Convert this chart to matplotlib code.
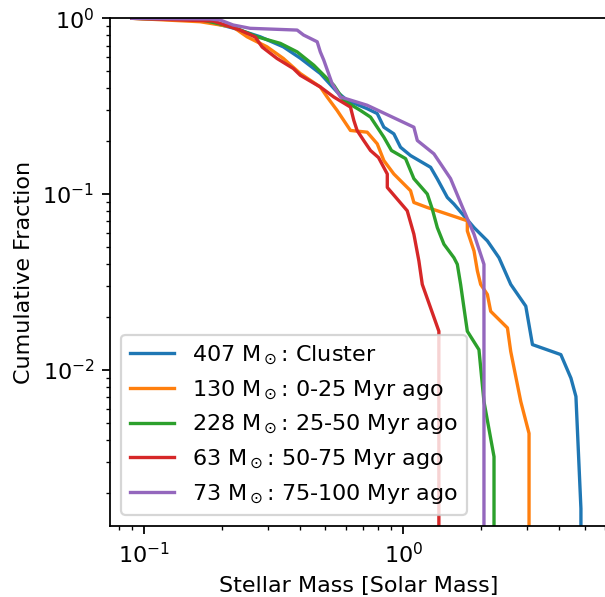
import matplotlib
matplotlib.use("Agg")
import matplotlib.pyplot as plt

# cumulative fraction of stars above a given mass
labels = [r"407 M$_\odot$: Cluster",
          r"130 M$_\odot$: 0-25 Myr ago",
          r"228 M$_\odot$: 25-50 Myr ago",
          r"63 M$_\odot$: 50-75 Myr ago",
          r"73 M$_\odot$: 75-100 Myr ago"]

mass_cluster = [0.09, 0.165, 0.221, 0.281, 0.345, 0.401, 0.479, 0.556, 0.608, 0.726,
                0.794, 0.842, 0.920, 0.976, 1.067, 1.275, 1.353, 1.479, 1.568, 1.874,
                2.110, 2.339, 2.596, 2.967, 3.148, 4.05, 4.43, 4.63, 4.84, 4.84]
frac_cluster = [1.0, 0.984, 0.880, 0.785, 0.688, 0.593, 0.485, 0.381, 0.341, 0.306,
                0.287, 0.240, 0.220, 0.1846, 0.1655, 0.1419, 0.1219, 0.0956, 0.0877, 0.0644,
                0.0541, 0.0434, 0.0306, 0.0230, 0.0139, 0.01219, 0.00895, 0.00704, 0.00162, 0.0]

mass_0_25 = [0.09, 0.165, 0.221, 0.250, 0.2985, 0.345, 0.401, 0.479, 0.509, 0.556,
             0.626, 0.726, 0.794, 0.842, 0.920, 1.067, 1.099, 1.238, 1.353, 1.766,
             1.766, 1.874, 1.931, 1.988, 2.110, 2.173, 2.521, 2.596, 2.838, 3.054, 3.054]
frac_0_25 = [1.0, 0.956, 0.892, 0.785, 0.688, 0.591, 0.485, 0.4066, 0.3565, 0.299,
             0.230, 0.2249, 0.193, 0.155, 0.130, 0.1044, 0.0895, 0.0838, 0.0803, 0.0704,
             0.0617, 0.0474, 0.0365, 0.0306, 0.0268, 0.0215, 0.0173, 0.0127, 0.00659, 0.00434, 0.0]

mass_25_50 = [0.09, 0.165, 0.221, 0.273, 0.336, 0.390, 0.452, 0.509, 0.540, 0.590,
              0.684, 0.748, 0.842, 0.901, 1.021, 1.099, 1.238, 1.294, 1.353, 1.435,
              1.568, 1.616, 1.664, 1.714, 1.766, 1.958, 2.047, 2.238, 2.238]
frac_25_50 = [1.0, 0.984, 0.892, 0.785, 0.720, 0.644, 0.541, 0.454, 0.416, 0.341,
              0.299, 0.274, 0.2106, 0.1768, 0.159, 0.1223, 0.100, 0.0821, 0.0644, 0.0518,
              0.0434, 0.0398, 0.0306, 0.0225, 0.01656, 0.0130, 0.00659, 0.00320, 0.0]

mass_50_75 = [0.09, 0.185, 0.235, 0.269, 0.286, 0.326, 0.377, 0.401, 0.479, 0.540,
              0.626, 0.645, 0.664, 0.704, 0.748, 0.803, 0.868, 0.868, 1.036, 1.099,
              1.149, 1.184, 1.372, 1.372]
frac_50_75 = [1.0, 0.965, 0.857, 0.782, 0.686, 0.591, 0.518, 0.474, 0.4066, 0.3565,
              0.3125, 0.2623, 0.230, 0.2017, 0.1768, 0.1612, 0.130, 0.109, 0.0803, 0.0591,
              0.0416, 0.0306, 0.01656, 0.0]

mass_75_100 = [0.09, 0.180, 0.197, 0.221, 0.257, 0.390, 0.413, 0.466, 0.479, 0.494,
               0.532, 0.573, 0.726, 1.099, 1.133, 1.313, 1.522, 1.714, 1.874, 2.047, 2.047]
frac_75_100 = [1.0, 0.991, 0.978, 0.916, 0.877, 0.857, 0.803, 0.735, 0.644, 0.578,
               0.425, 0.3565, 0.320, 0.240, 0.2017, 0.1693, 0.1223, 0.0803, 0.0591, 0.0398, 0.0]

masses = [mass_cluster, mass_0_25, mass_25_50, mass_50_75, mass_75_100]
fracs = [frac_cluster, frac_0_25, frac_25_50, frac_50_75, frac_75_100]

fig = plt.figure(figsize=(605 / 160, 597 / 160), dpi=160)
# axes runs slightly past the right edge, like the original crop
ax = fig.add_axes([110 / 605, 71 / 597, 497 / 605, 507.7 / 597])

for m, f, lab in zip(masses, fracs, labels):
    ax.plot(m, f, label=lab)

ax.set_xscale("log")
ax.set_yscale("log")
ax.set_xlim(0.0741, 6.1)
ax.set_ylim(0.00129, 1)
ax.set_xlabel("Stellar Mass [Solar Mass]")
ax.set_ylabel("Cumulative Fraction")
ax.legend(loc="lower left")

fig.savefig("out.png", dpi=160)
